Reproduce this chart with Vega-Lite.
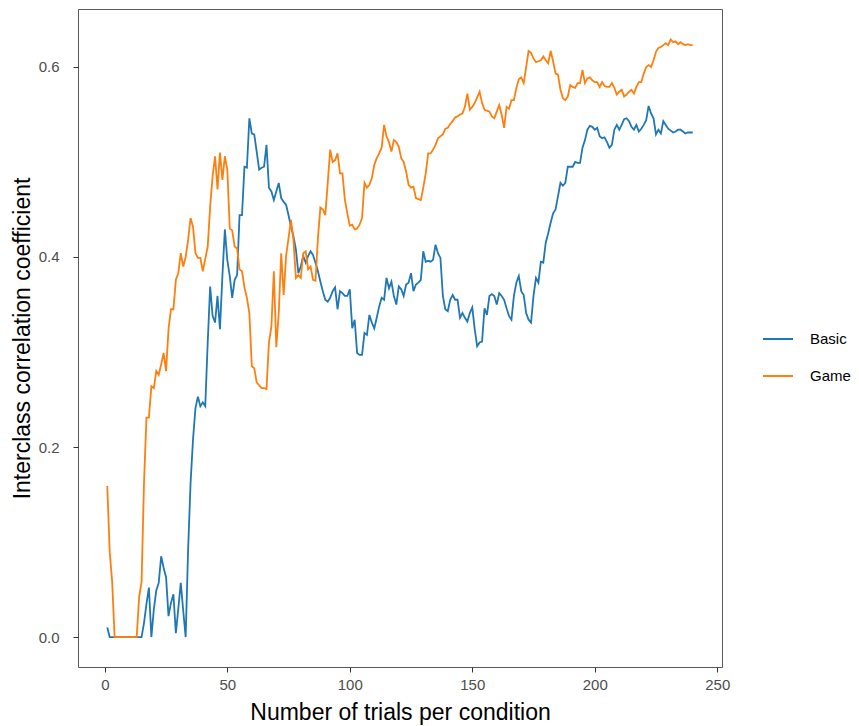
{
  "$schema": "https://vega.github.io/schema/vega-lite/v6.json",
  "autosize": "none",
  "width": 644,
  "height": 658,
  "padding": {"left": 78, "top": 9, "right": 137, "bottom": 59},
  "background": "white",
  "config": {
    "font": "Liberation Sans",
    "view": {"stroke": "#5a5a5a", "strokeWidth": 1},
    "axis": {
      "grid": false,
      "domain": false,
      "tickColor": "#333333",
      "tickSize": 5,
      "labelColor": "#4d4d4d",
      "labelFontSize": 15,
      "titleFontSize": 23,
      "titleFontWeight": "normal",
      "titleColor": "black"
    },
    "legend": {
      "labelFontSize": 15,
      "labelColor": "black"
    }
  },
  "data": {
    "values": [
      {"n":1,"Basic":0.010,"Game":0.159},{"n":2,"Basic":0,"Game":0.089},{"n":3,"Basic":0,"Game":0.058},{"n":4,"Basic":0,"Game":0},{"n":5,"Basic":0,"Game":0},
      {"n":6,"Basic":0,"Game":0},{"n":7,"Basic":0,"Game":0},{"n":8,"Basic":0,"Game":0},{"n":9,"Basic":0,"Game":0},{"n":10,"Basic":0,"Game":0},
      {"n":11,"Basic":0,"Game":0},{"n":12,"Basic":0,"Game":0},{"n":13,"Basic":0,"Game":0},{"n":14,"Basic":0,"Game":0.042},{"n":15,"Basic":0,"Game":0.058},
      {"n":16,"Basic":0.015,"Game":0.163},{"n":17,"Basic":0.035,"Game":0.231},{"n":18,"Basic":0.052,"Game":0.231},{"n":19,"Basic":0,"Game":0.264},{"n":20,"Basic":0.029,"Game":0.262},
      {"n":21,"Basic":0.049,"Game":0.280},{"n":22,"Basic":0.057,"Game":0.276},{"n":23,"Basic":0.085,"Game":0.287},{"n":24,"Basic":0.073,"Game":0.299},{"n":25,"Basic":0.063,"Game":0.280},
      {"n":26,"Basic":0.022,"Game":0.324},{"n":27,"Basic":0.036,"Game":0.345},{"n":28,"Basic":0.045,"Game":0.345},{"n":29,"Basic":0.004,"Game":0.376},{"n":30,"Basic":0.030,"Game":0.383},
      {"n":31,"Basic":0.057,"Game":0.404},{"n":32,"Basic":0.028,"Game":0.390},{"n":33,"Basic":0,"Game":0.400},{"n":34,"Basic":0.092,"Game":0.418},{"n":35,"Basic":0.162,"Game":0.441},
      {"n":36,"Basic":0.208,"Game":0.432},{"n":37,"Basic":0.241,"Game":0.404},{"n":38,"Basic":0.253,"Game":0.399},{"n":39,"Basic":0.243,"Game":0.399},{"n":40,"Basic":0.247,"Game":0.385},
      {"n":41,"Basic":0.243,"Game":0.398},{"n":42,"Basic":0.310,"Game":0.411},{"n":43,"Basic":0.369,"Game":0.453},{"n":44,"Basic":0.338,"Game":0.485},{"n":45,"Basic":0.331,"Game":0.506},
      {"n":46,"Basic":0.359,"Game":0.471},{"n":47,"Basic":0.324,"Game":0.510},{"n":48,"Basic":0.380,"Game":0.481},{"n":49,"Basic":0.429,"Game":0.506},{"n":50,"Basic":0.397,"Game":0.492},
      {"n":51,"Basic":0.380,"Game":0.430},{"n":52,"Basic":0.357,"Game":0.428},{"n":53,"Basic":0.376,"Game":0.411},{"n":54,"Basic":0.381,"Game":0.409},{"n":55,"Basic":0.444,"Game":0.387},
      {"n":56,"Basic":0.444,"Game":0.385},{"n":57,"Basic":0.495,"Game":0.368},{"n":58,"Basic":0.494,"Game":0.357},{"n":59,"Basic":0.546,"Game":0.341},{"n":60,"Basic":0.530,"Game":0.285},
      {"n":61,"Basic":0.529,"Game":0.283},{"n":62,"Basic":0.511,"Game":0.268},{"n":63,"Basic":0.492,"Game":0.265},{"n":64,"Basic":0.494,"Game":0.262},{"n":65,"Basic":0.495,"Game":0.262},
      {"n":66,"Basic":0.518,"Game":0.261},{"n":67,"Basic":0.473,"Game":0.310},{"n":68,"Basic":0.469,"Game":0.327},{"n":69,"Basic":0.460,"Game":0.385},{"n":70,"Basic":0.469,"Game":0.305},
      {"n":71,"Basic":0.478,"Game":0.341},{"n":72,"Basic":0.462,"Game":0.404},{"n":73,"Basic":0.458,"Game":0.360},{"n":74,"Basic":0.455,"Game":0.401},{"n":75,"Basic":0.444,"Game":0.420},
      {"n":76,"Basic":0.432,"Game":0.439},{"n":77,"Basic":0.422,"Game":0.418},{"n":78,"Basic":0.408,"Game":0.378},{"n":79,"Basic":0.383,"Game":0.381},{"n":80,"Basic":0.390,"Game":0.378},
      {"n":81,"Basic":0.401,"Game":0.404},{"n":82,"Basic":0.394,"Game":0.406},{"n":83,"Basic":0.401,"Game":0.387},{"n":84,"Basic":0.406,"Game":0.390},{"n":85,"Basic":0.402,"Game":0.376},
      {"n":86,"Basic":0.394,"Game":0.375},{"n":87,"Basic":0.385,"Game":0.420},{"n":88,"Basic":0.374,"Game":0.452},{"n":89,"Basic":0.364,"Game":0.450},{"n":90,"Basic":0.355,"Game":0.444},
      {"n":91,"Basic":0.353,"Game":0.478},{"n":92,"Basic":0.357,"Game":0.513},{"n":93,"Basic":0.364,"Game":0.500},{"n":94,"Basic":0.368,"Game":0.502},{"n":95,"Basic":0.345,"Game":0.509},
      {"n":96,"Basic":0.364,"Game":0.488},{"n":97,"Basic":0.362,"Game":0.488},{"n":98,"Basic":0.359,"Game":0.460},{"n":99,"Basic":0.359,"Game":0.446},{"n":100,"Basic":0.366,"Game":0.433},
      {"n":101,"Basic":0.325,"Game":0.434},{"n":102,"Basic":0.334,"Game":0.429},{"n":103,"Basic":0.299,"Game":0.430},{"n":104,"Basic":0.297,"Game":0.434},{"n":105,"Basic":0.297,"Game":0.441},
      {"n":106,"Basic":0.320,"Game":0.478},{"n":107,"Basic":0.318,"Game":0.473},{"n":108,"Basic":0.339,"Game":0.476},{"n":109,"Basic":0.331,"Game":0.483},{"n":110,"Basic":0.325,"Game":0.497},
      {"n":111,"Basic":0.336,"Game":0.504},{"n":112,"Basic":0.348,"Game":0.509},{"n":113,"Basic":0.357,"Game":0.515},{"n":114,"Basic":0.355,"Game":0.539},{"n":115,"Basic":0.378,"Game":0.527},
      {"n":116,"Basic":0.367,"Game":0.521},{"n":117,"Basic":0.374,"Game":0.511},{"n":118,"Basic":0.359,"Game":0.523},{"n":119,"Basic":0.350,"Game":0.521},{"n":120,"Basic":0.369,"Game":0.516},
      {"n":121,"Basic":0.366,"Game":0.504},{"n":122,"Basic":0.359,"Game":0.500},{"n":123,"Basic":0.371,"Game":0.490},{"n":124,"Basic":0.373,"Game":0.476},{"n":125,"Basic":0.383,"Game":0.473},
      {"n":126,"Basic":0.364,"Game":0.474},{"n":127,"Basic":0.371,"Game":0.462},{"n":128,"Basic":0.373,"Game":0.461},{"n":129,"Basic":0.376,"Game":0.460},{"n":130,"Basic":0.406,"Game":0.473},
      {"n":131,"Basic":0.395,"Game":0.488},{"n":132,"Basic":0.396,"Game":0.509},{"n":133,"Basic":0.395,"Game":0.509},{"n":134,"Basic":0.397,"Game":0.513},{"n":135,"Basic":0.413,"Game":0.518},
      {"n":136,"Basic":0.404,"Game":0.525},{"n":137,"Basic":0.399,"Game":0.527},{"n":138,"Basic":0.359,"Game":0.529},{"n":139,"Basic":0.345,"Game":0.535},{"n":140,"Basic":0.343,"Game":0.536},
      {"n":141,"Basic":0.355,"Game":0.540},{"n":142,"Basic":0.360,"Game":0.543},{"n":143,"Basic":0.355,"Game":0.547},{"n":144,"Basic":0.355,"Game":0.548},{"n":145,"Basic":0.336,"Game":0.550},
      {"n":146,"Basic":0.341,"Game":0.551},{"n":147,"Basic":0.336,"Game":0.558},{"n":148,"Basic":0.332,"Game":0.572},{"n":149,"Basic":0.341,"Game":0.555},{"n":150,"Basic":0.347,"Game":0.558},
      {"n":151,"Basic":0.324,"Game":0.562},{"n":152,"Basic":0.306,"Game":0.568},{"n":153,"Basic":0.310,"Game":0.574},{"n":154,"Basic":0.311,"Game":0.562},{"n":155,"Basic":0.346,"Game":0.555},
      {"n":156,"Basic":0.339,"Game":0.554},{"n":157,"Basic":0.359,"Game":0.553},{"n":158,"Basic":0.361,"Game":0.548},{"n":159,"Basic":0.359,"Game":0.546},{"n":160,"Basic":0.350,"Game":0.553},
      {"n":161,"Basic":0.362,"Game":0.560},{"n":162,"Basic":0.359,"Game":0.550},{"n":163,"Basic":0.355,"Game":0.536},{"n":164,"Basic":0.346,"Game":0.558},{"n":165,"Basic":0.338,"Game":0.556},
      {"n":166,"Basic":0.334,"Game":0.565},{"n":167,"Basic":0.359,"Game":0.565},{"n":168,"Basic":0.373,"Game":0.578},{"n":169,"Basic":0.380,"Game":0.587},{"n":170,"Basic":0.364,"Game":0.589},
      {"n":171,"Basic":0.360,"Game":0.583},{"n":172,"Basic":0.341,"Game":0.600},{"n":173,"Basic":0.334,"Game":0.617},{"n":174,"Basic":0.331,"Game":0.615},{"n":175,"Basic":0.359,"Game":0.609},
      {"n":176,"Basic":0.378,"Game":0.605},{"n":177,"Basic":0.373,"Game":0.606},{"n":178,"Basic":0.395,"Game":0.607},{"n":179,"Basic":0.394,"Game":0.611},{"n":180,"Basic":0.415,"Game":0.607},
      {"n":181,"Basic":0.425,"Game":0.604},{"n":182,"Basic":0.436,"Game":0.617},{"n":183,"Basic":0.446,"Game":0.606},{"n":184,"Basic":0.450,"Game":0.593},{"n":185,"Basic":0.464,"Game":0.592},
      {"n":186,"Basic":0.478,"Game":0.576},{"n":187,"Basic":0.475,"Game":0.567},{"n":188,"Basic":0.478,"Game":0.565},{"n":189,"Basic":0.495,"Game":0.569},{"n":190,"Basic":0.495,"Game":0.581},
      {"n":191,"Basic":0.495,"Game":0.579},{"n":192,"Basic":0.500,"Game":0.578},{"n":193,"Basic":0.499,"Game":0.583},{"n":194,"Basic":0.499,"Game":0.583},{"n":195,"Basic":0.515,"Game":0.597},
      {"n":196,"Basic":0.523,"Game":0.583},{"n":197,"Basic":0.534,"Game":0.588},{"n":198,"Basic":0.538,"Game":0.589},{"n":199,"Basic":0.537,"Game":0.586},{"n":200,"Basic":0.534,"Game":0.584},
      {"n":201,"Basic":0.536,"Game":0.584},{"n":202,"Basic":0.527,"Game":0.579},{"n":203,"Basic":0.525,"Game":0.584},{"n":204,"Basic":0.526,"Game":0.580},{"n":205,"Basic":0.521,"Game":0.579},
      {"n":206,"Basic":0.515,"Game":0.579},{"n":207,"Basic":0.518,"Game":0.583},{"n":208,"Basic":0.534,"Game":0.578},{"n":209,"Basic":0.539,"Game":0.571},{"n":210,"Basic":0.534,"Game":0.574},
      {"n":211,"Basic":0.539,"Game":0.576},{"n":212,"Basic":0.545,"Game":0.569},{"n":213,"Basic":0.546,"Game":0.571},{"n":214,"Basic":0.543,"Game":0.574},{"n":215,"Basic":0.537,"Game":0.576},
      {"n":216,"Basic":0.534,"Game":0.572},{"n":217,"Basic":0.539,"Game":0.579},{"n":218,"Basic":0.532,"Game":0.584},{"n":219,"Basic":0.535,"Game":0.584},{"n":220,"Basic":0.539,"Game":0.593},
      {"n":221,"Basic":0.544,"Game":0.600},{"n":222,"Basic":0.559,"Game":0.602},{"n":223,"Basic":0.551,"Game":0.600},{"n":224,"Basic":0.546,"Game":0.607},{"n":225,"Basic":0.529,"Game":0.616},
      {"n":226,"Basic":0.534,"Game":0.620},{"n":227,"Basic":0.530,"Game":0.621},{"n":228,"Basic":0.543,"Game":0.623},{"n":229,"Basic":0.539,"Game":0.625},{"n":230,"Basic":0.535,"Game":0.623},
      {"n":231,"Basic":0.533,"Game":0.629},{"n":232,"Basic":0.531,"Game":0.626},{"n":233,"Basic":0.532,"Game":0.627},{"n":234,"Basic":0.534,"Game":0.624},{"n":235,"Basic":0.534,"Game":0.626},
      {"n":236,"Basic":0.532,"Game":0.624},{"n":237,"Basic":0.530,"Game":0.623},{"n":238,"Basic":0.531,"Game":0.624},{"n":239,"Basic":0.531,"Game":0.623},{"n":240,"Basic":0.531,"Game":0.623}
    ]
  },
  "transform": [{"fold": ["Basic", "Game"], "as": ["condition", "icc"]}],
  "mark": {"type": "line", "strokeWidth": 1.8, "clip": true},
  "encoding": {
    "x": {
      "field": "n", "type": "quantitative",
      "scale": {"domain": [-10.95, 251.95], "nice": false, "zero": false},
      "axis": {"values": [0, 50, 100, 150, 200, 250], "title": "Number of trials per condition", "labelPadding": 5, "titleY": 45, "titleBaseline": "middle"}
    },
    "y": {
      "field": "icc", "type": "quantitative",
      "scale": {"domain": [-0.0315, 0.661], "nice": false, "zero": false},
      "axis": {"values": [0, 0.2, 0.4, 0.6], "format": ".1f", "title": "Interclass correlation coefficient", "labelPadding": 14, "titleX": -56, "titleBaseline": "middle", "titleAngle": -90}
    },
    "color": {
      "field": "condition", "type": "nominal",
      "scale": {"domain": ["Basic", "Game"], "range": ["#1f77b4", "#ff7f0e"]},
      "legend": {"title": null, "orient": "none", "legendX": 684, "legendY": 314, "symbolType": "stroke", "symbolSize": 900, "symbolStrokeWidth": 2, "rowPadding": 13, "labelOffset": 16}
    }
  }
}
